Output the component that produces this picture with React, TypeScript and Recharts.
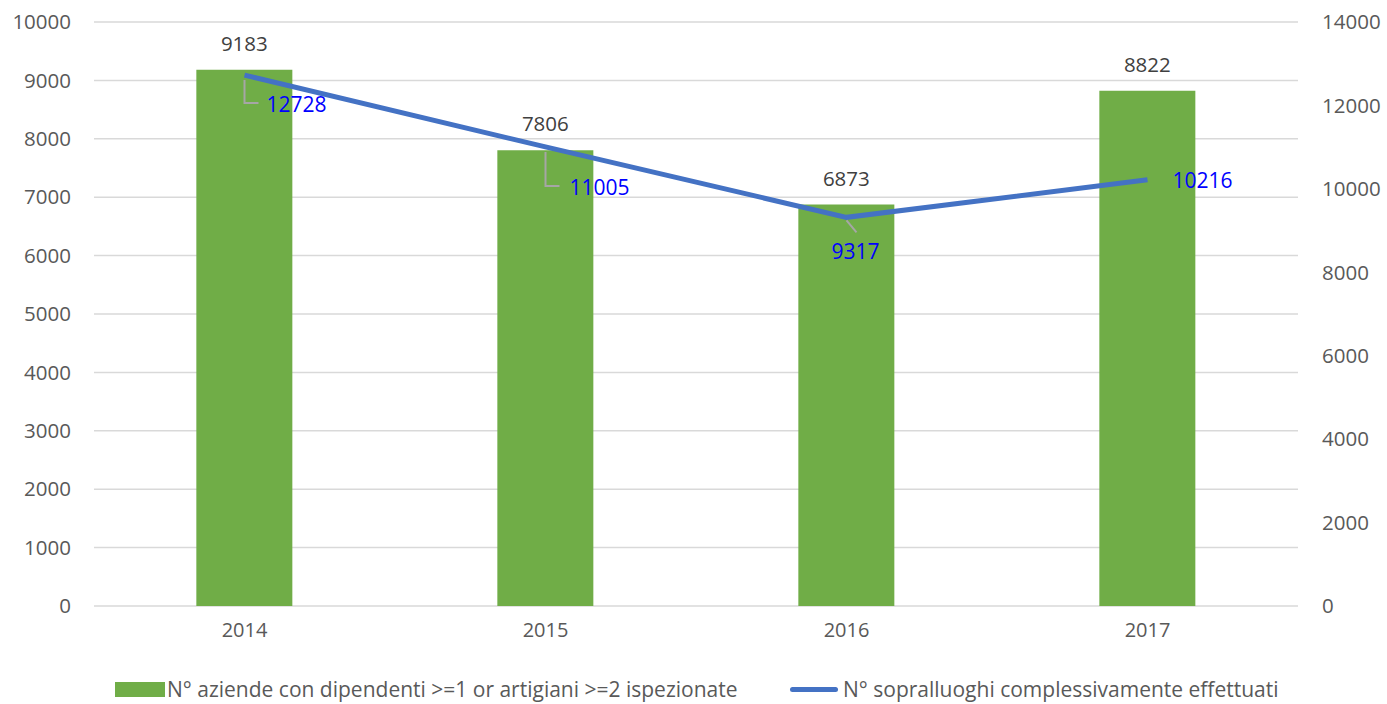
import React from "react";
import {
  ComposedChart,
  Bar,
  Line,
  XAxis,
  YAxis,
  CartesianGrid,
  Legend,
  LabelList,
} from "recharts";

const years = ["2014", "2015", "2016", "2017"];
const aziende = [9183, 7806, 6873, 8822];
const sopralluoghi = [12728, 11005, 9317, 10216];
const leftTicks = [0, 1000, 2000, 3000, 4000, 5000, 6000, 7000, 8000, 9000, 10000];
const rightTicks = [0, 2000, 4000, 6000, 8000, 10000, 12000, 14000];
const barName = "N° aziende con dipendenti >=1 or artigiani >=2 ispezionate";
const lineName = "N° sopralluoghi complessivamente effettuati";

// label placement for line labels (styling only)
const lineLabelLayout = [
  { dx: 22, dy: 29, leader: "elbow", ly: 28 },
  { dx: 24, dy: 40, leader: "elbow", ly: 39 },
  { dx: -15, dy: 34, leader: "diag", ly: 0 },
  { dx: 25, dy: 0, leader: "none", ly: 0 },
];

const data = years.map((y, i) => ({
  year: y,
  aziende: aziende[i],
  sopralluoghi: sopralluoghi[i],
}));

const FONT = "'Open Sans', sans-serif";

const LineLabel = (props: any) => {
  const { x, y, value, index } = props;
  const l = lineLabelLayout[index];
  const elements: React.ReactNode[] = [];
  if (l.leader === "elbow") {
    elements.push(
      <polyline
        key="ld"
        points={`${x},${y + 5} ${x},${y + l.ly} ${x + 14},${y + l.ly}`}
        fill="none"
        stroke="#A6A6A6"
        strokeWidth={2}
      />
    );
  } else if (l.leader === "diag") {
    elements.push(
      <line key="ld" x1={x} y1={y + 3} x2={x + 10} y2={y + 15} stroke="#A6A6A6" strokeWidth={2} />
    );
  }
  elements.push(
    <text
      key="t"
      x={x + l.dx}
      y={y + l.dy}
      fill="#0000FF"
      fontSize={21}
      fontFamily={FONT}
      dominantBaseline="central"
      textAnchor="start"
    >
      {value}
    </text>
  );
  return <g>{elements}</g>;
};

const LegendContent = () => (
  <div
    style={{
      position: "relative",
      height: 36,
      width: 1387,
      fontFamily: FONT,
      fontSize: 21,
      color: "#595959",
    }}
  >
    <div style={{ position: "absolute", left: 115, top: 14, width: 50, height: 15, background: "#70AD47" }} />
    <div style={{ position: "absolute", left: 167, top: 7, whiteSpace: "nowrap", lineHeight: "28px" }}>{barName}</div>
    <div style={{ position: "absolute", left: 790, top: 19, width: 48, height: 5, borderRadius: 3, background: "#4472C4" }} />
    <div style={{ position: "absolute", left: 843, top: 7, whiteSpace: "nowrap", lineHeight: "28px" }}>{lineName}</div>
  </div>
);

export default function App() {
  return (
    <div style={{ position: "absolute", left: 0, top: 0, width: 1387, height: 704, background: "#fff" }}>
      <ComposedChart
        width={1387}
        height={704}
        data={data}
        margin={{ top: 22, right: 0, bottom: 28, left: 0 }}
        barCategoryGap="34%"
      >
        <CartesianGrid vertical={false} stroke="#D9D9D9" strokeWidth={1.5} yAxisId="left" />
        <XAxis
          dataKey="year"
          axisLine={false}
          tickLine={false}
          height={30}
          tickMargin={11}
          tick={{ fill: "#595959", fontSize: 20, fontFamily: FONT }}
        />
        <YAxis
          yAxisId="left"
          orientation="left"
          width={94}
          domain={[0, 10000]}
          ticks={leftTicks}
          axisLine={false}
          tickLine={false}
          tickMargin={17}
          tick={{ fill: "#595959", fontSize: 20.5, fontFamily: FONT }}
        />
        <YAxis
          yAxisId="right"
          orientation="right"
          width={89}
          domain={[0, 14000]}
          ticks={rightTicks}
          axisLine={false}
          tickLine={false}
          tickMargin={18}
          tick={{ fill: "#595959", fontSize: 20.5, fontFamily: FONT }}
        />
        <Legend
          verticalAlign="bottom"
          height={40}
          content={<LegendContent />}
          wrapperStyle={{ position: "absolute", left: 0, top: 668, width: 1387 }}
        />
        <Bar yAxisId="left" dataKey="aziende" name={barName} fill="#70AD47" isAnimationActive={false}>
          <LabelList
            dataKey="aziende"
            position="top"
            offset={19}
            fill="#404040"
            fontSize={20.5}
            fontFamily={FONT}
          />
        </Bar>
        <Line
          yAxisId="right"
          dataKey="sopralluoghi"
          name={lineName}
          stroke="#4472C4"
          strokeWidth={5}
          dot={false}
          activeDot={false}
          isAnimationActive={false}
        >
          <LabelList dataKey="sopralluoghi" content={<LineLabel />} />
        </Line>
      </ComposedChart>
    </div>
  );
}
